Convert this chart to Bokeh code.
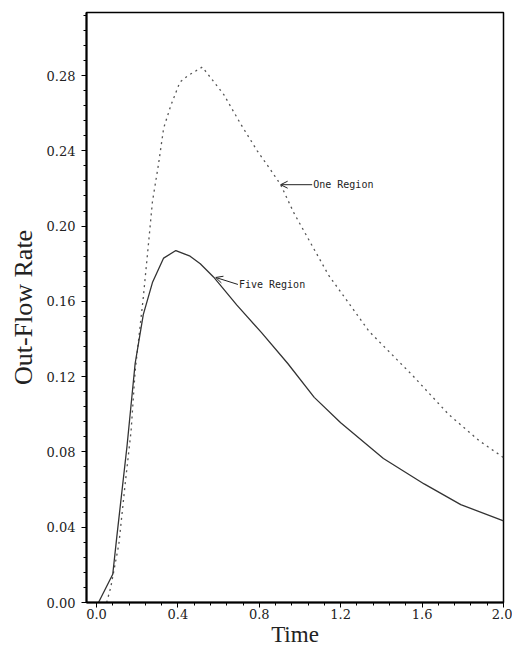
from bokeh.plotting import figure
from bokeh.models import (Range1d, FixedTicker, Arrow, OpenHead, ColumnDataSource)
from bokeh.core.properties import value
from bokeh.embed import file_html
from bokeh.resources import INLINE

# ---- data ----
t_five = [0.01, 0.08, 0.10, 0.15, 0.19, 0.23, 0.275, 0.33, 0.39, 0.46, 0.51, 0.575,
          0.69, 0.81, 0.94, 1.07, 1.20, 1.41, 1.61, 1.79, 2.00]
five_region = [0.0, 0.015, 0.035, 0.083, 0.127, 0.153, 0.170, 0.183, 0.187, 0.184,
               0.180, 0.173, 0.158, 0.1435, 0.127, 0.109, 0.0955, 0.0765, 0.063, 0.052, 0.0434]

t_one = [0.05, 0.07, 0.11, 0.14, 0.17, 0.19, 0.23, 0.255, 0.275, 0.305, 0.33, 0.365,
         0.41, 0.45, 0.52, 0.625, 0.71, 0.79, 0.855, 0.905, 0.97, 1.14, 1.34, 1.55,
         1.73, 1.88, 2.00]
one_region = [0.0, 0.008, 0.031, 0.062, 0.091, 0.123, 0.162, 0.190, 0.213, 0.233, 0.252,
              0.264, 0.2765, 0.280, 0.2845, 0.270, 0.254, 0.240, 0.230, 0.222, 0.207,
              0.174, 0.144, 0.121, 0.100, 0.086, 0.077]

x_ticks = [0.0, 0.4, 0.8, 1.2, 1.6, 2.0]
x_tick_labels = ["0.0", "0.4", "0.8", "1.2", "1.6", "2.0"]
y_ticks = [0.00, 0.04, 0.08, 0.12, 0.16, 0.20, 0.24, 0.28]
y_tick_labels = ["0.00", "0.04", "0.08", "0.12", "0.16", "0.20", "0.24", "0.28"]

# annotation anchors (data coords)
one_label = {"tip": (0.905, 0.222), "tail": (1.06, 0.222), "text": "One Region"}
five_label = {"tip": (0.586, 0.1727), "tail": (0.695, 0.169), "text": "Five Region"}

p = figure(width=512, height=650, output_backend="svg", toolbar_location=None,
           x_range=Range1d(-0.049, 2.0), y_range=Range1d(0.0, 0.3135),
           min_border_left=86, min_border_right=9, min_border_top=12, min_border_bottom=48)

p.background_fill_color = "white"
p.border_fill_color = "white"
p.outline_line_color = "black"
p.outline_line_width = 1.5
p.xgrid.visible = False
p.ygrid.visible = False

minor_x = [round(i * 0.08, 2) for i in range(0, 26)]
minor_y = [round(i * 0.008, 3) for i in range(0, 40)]
p.xaxis.ticker = FixedTicker(ticks=x_ticks, minor_ticks=minor_x)
p.yaxis.ticker = FixedTicker(ticks=y_ticks, minor_ticks=minor_y)
p.xaxis.major_label_overrides = dict(zip(x_ticks, x_tick_labels))
p.yaxis.major_label_overrides = dict(zip(y_ticks, y_tick_labels))

for ax in (p.xaxis[0], p.yaxis[0]):
    ax.axis_line_width = 2
    ax.axis_line_color = "black"
    ax.major_tick_in = 0
    ax.major_tick_out = 5
    ax.minor_tick_in = 0
    ax.minor_tick_out = 3
    ax.major_tick_line_color = "black"
    ax.minor_tick_line_color = "black"
    ax.major_label_text_font = "DejaVu Serif"
    ax.major_label_text_font_size = "13px"
    ax.major_label_text_color = "#222"
    ax.axis_label_text_font = "Liberation Serif"
    ax.axis_label_text_font_style = "normal"
    ax.axis_label_text_color = "#222"

p.xaxis.axis_label = "Time"
p.xaxis.axis_label_text_font_size = "23px"
p.xaxis.major_label_standoff = 1
p.xaxis.axis_label_standoff = 0
p.yaxis.axis_label = "Out-Flow Rate"
p.yaxis.axis_label_text_font_size = "26px"
p.yaxis.major_label_standoff = 6
p.yaxis.axis_label_standoff = 6

p.line(t_one, one_region, line_color="#555555", line_width=1.3, line_dash="2 4")
p.line(t_five, five_region, line_color="#333333", line_width=1.3)

for lab in (one_label, five_label):
    p.add_layout(Arrow(end=OpenHead(size=7, line_width=1, line_color="#222"),
                       x_start=lab["tail"][0], y_start=lab["tail"][1],
                       x_end=lab["tip"][0], y_end=lab["tip"][1],
                       line_color="#222", line_width=1))
src = ColumnDataSource(dict(x=[one_label["tail"][0] + 0.005, five_label["tail"][0] + 0.005],
                            y=[one_label["tail"][1], five_label["tail"][1]],
                            t=[one_label["text"], five_label["text"]]))
p.text(x="x", y="y", text="t", source=src, text_font=value("DejaVu Sans Mono"),
       text_font_size="10px", text_baseline="middle", text_align="left", text_color="#222")

open("out.html", "w").write(file_html(p, INLINE))
